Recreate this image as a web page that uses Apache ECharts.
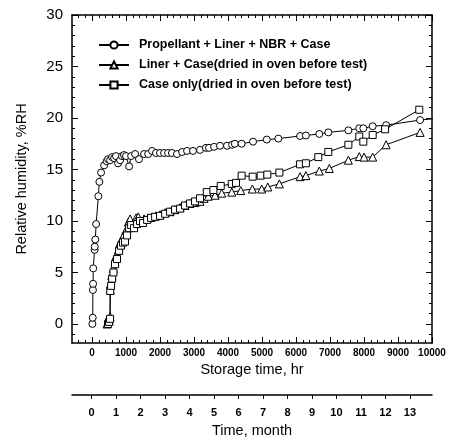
<!DOCTYPE html>
<html><head><meta charset="utf-8">
<script src="https://cdn.jsdelivr.net/npm/echarts@6/dist/echarts.min.js"></script>
<style>html,body{margin:0;padding:0;background:#fff}#c{width:452px;height:439px}</style>
</head><body><div id="c"></div>
<script>
const seriesNames = ['Propellant + Liner + NBR + Case', 'Liner + Case(dried in oven before test)', 'Case only(dried in oven before test)'];

const propHours = [10,20,25,30,35,75,80,95,120,185,215,265,355,430,470,530,590,650,705,765,825,880,940,1000,1090,1150,1265,1380,1530,1650,1765,1880,2000,2120,2235,2350,2500,2650,2795,2970,3175,3350,3440,3590,3765,3970,4120,4200,4400,4735,5140,5480,6120,6290,6685,6950,7540,7860,7980,8255,8650,9650,10300];
const propRH =    [0.0,0.6,3.3,3.9,5.4,7.2,7.5,8.2,9.7,12.4,13.8,14.7,15.4,15.8,16.0,15.9,16.2,16.1,16.3,15.6,15.9,16.3,16.4,16.3,15.3,16.3,16.5,16.0,16.5,16.5,16.8,16.6,16.6,16.6,16.6,16.6,16.5,16.7,16.8,16.8,16.9,17.1,17.1,17.2,17.3,17.3,17.4,17.5,17.5,17.7,17.9,18.0,18.25,18.3,18.45,18.6,18.8,19.0,19.0,19.2,19.3,19.8,20.0];

const linerHours = [440,500,530,535,545,580,625,675,705,775,825,880,940,1000,1070,1120,1205,1295,1360,1440,1530,1650,1765,1880,2000,2150,2295,2440,2590,2735,2880,3030,3175,3295,3420,3620,3815,4110,4375,4715,4990,5170,5510,6120,6290,6685,6980,7540,7860,8000,8255,8650,9650];
const linerRH =    [0.0,0.3,0.7,3.3,3.9,4.7,5.4,6.0,6.6,7.2,7.9,8.2,8.7,9.1,9.9,10.2,9.5,10.3,10.4,9.9,10.2,10.3,10.4,10.5,10.6,10.8,10.9,11.1,11.3,11.5,11.7,11.8,11.9,12.2,12.4,12.5,12.7,12.8,12.95,13.1,13.1,13.3,13.6,14.3,14.4,14.85,15.1,15.9,16.25,16.2,16.2,17.4,18.6];

const caseHours = [470,500,530,535,560,590,630,675,735,795,850,910,970,1030,1090,1150,1235,1325,1410,1500,1620,1735,1855,2000,2150,2295,2440,2590,2735,2880,3030,3175,3375,3570,3785,4110,4235,4400,4725,4960,5155,5510,6120,6290,6655,6950,7540,7860,7980,8255,8620,9625];
const caseRH =    [0.0,0.2,0.5,3.2,3.7,4.4,5.0,5.8,6.3,7.1,7.6,7.9,8.0,8.6,9.3,9.6,9.3,9.7,10.0,9.8,10.1,10.3,10.4,10.5,10.7,10.9,11.1,11.2,11.5,11.7,11.9,12.2,12.8,13.0,13.4,13.6,13.7,14.4,14.3,14.4,14.5,14.7,15.5,15.6,16.2,16.7,17.4,18.2,17.7,18.35,18.9,20.8];

const hourTicks = [0,1000,2000,3000,4000,5000,6000,7000,8000,9000,10000];
const rhTicks = [0,5,10,15,20,25,30];
const monthTicks = [0,1,2,3,4,5,6,7,8,9,10,11,12,13];

const hourMinor = []; for (let v = -400; v <= 10000; v += 200) hourMinor.push(v);
const rhMinor = []; for (let v = -1; v <= 30; v += 1) rhMinor.push(v);

const X_MIN = -590, X_MAX = 10000, Y_MIN = -1.85, Y_MAX = 30;
const FONT = 'Liberation Sans, Arial, sans-serif';
const BLACK = '#000';
const plain = v => String(v);

function zip(a, b) { return a.map((v, i) => [v, b[i]]); }

const lineAx = {show: true, onZero: false, lineStyle: {color: BLACK, width: 1.5}};
const noAx = {show: false, onZero: false};

function hx(pos, major) {
  return {
    gridIndex: 0, type: 'value', position: pos, min: X_MIN, max: X_MAX,
    axisLine: major ? lineAx : noAx,
    axisTick: {show: true, inside: true, length: major ? 6 : 3, customValues: major ? hourTicks : hourMinor, lineStyle: {color: BLACK, width: 1}},
    axisLabel: (major && pos === 'bottom') ? {customValues: hourTicks, formatter: plain, fontSize: 10, fontWeight: 'bold', color: BLACK, margin: 5, fontFamily: FONT} : {show: false},
    splitLine: {show: false}
  };
}
function ry(pos, major) {
  return {
    gridIndex: 0, type: 'value', position: pos, min: Y_MIN, max: Y_MAX,
    axisLine: major ? lineAx : noAx,
    axisTick: {show: true, inside: true, length: major ? 6 : 3, customValues: major ? rhTicks : rhMinor, lineStyle: {color: BLACK, width: 1}},
    axisLabel: (major && pos === 'left') ? {customValues: rhTicks, formatter: plain, fontSize: 15, color: BLACK, margin: 9, fontFamily: FONT} : {show: false},
    splitLine: {show: false}
  };
}

const xMain = hx('bottom', true);
xMain.name = 'Storage time, hr';
xMain.nameLocation = 'middle';
xMain.nameGap = 18;
xMain.nameTextStyle = {fontSize: 14.5, color: BLACK, fontFamily: FONT};

const yMain = ry('left', true);
yMain.name = 'Relative humidity, %RH';
yMain.nameLocation = 'middle';
yMain.nameGap = 43;
yMain.nameTextStyle = {fontSize: 14.5, color: BLACK, fontFamily: FONT};

function mkSeries(name, symbol, hours, vals, size) {
  return {
    type: 'line', name, xAxisIndex: 0, yAxisIndex: 0, data: zip(hours, vals),
    symbol, symbolSize: size, showSymbol: true, clip: true,
    itemStyle: {color: '#fff', borderColor: BLACK, borderWidth: 1},
    lineStyle: {color: BLACK, width: 1},
    emphasis: {disabled: true}
  };
}

const option = {
  animation: false,
  backgroundColor: '#fff',
  grid: [
    {left: 72, right: 20, top: 15, bottom: 96},
    {left: 72, right: 20, top: 394, height: 1}
  ],
  legend: {
    orient: 'vertical', left: 93, top: 33, itemWidth: 30, itemHeight: 9, itemGap: 6,
    data: seriesNames,
    textStyle: {fontSize: 12.5, fontWeight: 'bold', color: BLACK, fontFamily: FONT, padding: [0, 0, 0, 5], lineHeight: 14}
  },
  xAxis: [
    xMain, hx('bottom', false), hx('top', true), hx('top', false),
    {
      gridIndex: 1, type: 'value', position: 'bottom', min: -0.8, max: 13.9,
      axisLine: lineAx,
      axisTick: {show: true, inside: false, length: 4, customValues: monthTicks, lineStyle: {color: BLACK, width: 1}},
      axisLabel: {customValues: monthTicks, formatter: plain, fontSize: 11, fontWeight: 'bold', color: BLACK, margin: 12, fontFamily: FONT},
      splitLine: {show: false},
      name: 'Time, month', nameLocation: 'middle', nameGap: 28,
      nameTextStyle: {fontSize: 14.5, color: BLACK, fontFamily: FONT}
    }
  ],
  yAxis: [
    yMain, ry('left', false), ry('right', true), ry('right', false),
    {gridIndex: 1, type: 'value', show: false, min: 0, max: 1}
  ],
  series: [
    mkSeries(seriesNames[0], 'circle', propHours, propRH, 7),
    mkSeries(seriesNames[1], 'triangle', linerHours, linerRH, 8),
    mkSeries(seriesNames[2], 'rect', caseHours, caseRH, 7)
  ]
};

const chart = echarts.init(document.getElementById('c'), null, {renderer: 'canvas'});
chart.setOption(option);
</script>
</body></html>
